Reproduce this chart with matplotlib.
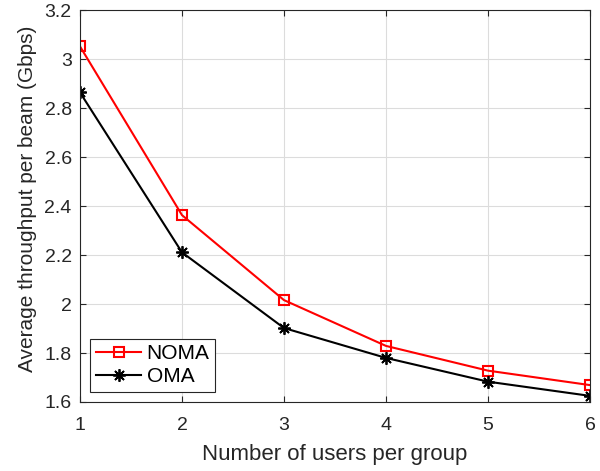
import matplotlib.pyplot as plt
import numpy as np

plt.rcParams['font.family'] = ['Liberation Sans', 'DejaVu Sans']

users = [1, 2, 3, 4, 5, 6]
noma = [3.052, 2.363, 2.016, 1.829, 1.728, 1.669]
oma = [2.864, 2.211, 1.902, 1.780, 1.683, 1.625]

fig = plt.figure(figsize=(6.0, 4.71), dpi=100)
ax = fig.add_axes([0.1333, 0.1465, 0.85, 0.832])

ax.plot(users, noma, color='red', lw=1.5, marker='s', ms=7, mfc='none',
        mec='red', mew=1.5, label='NOMA')
ax.plot(users, oma, color='black', lw=1.5, marker=(8, 2, 0), ms=9,
        mew=1.3, label='OMA')

ax.set_xlim(1, 6)
ax.set_ylim(1.6, 3.2)
ax.set_xticks(users)
ax.set_yticks(np.arange(1.6, 3.21, 0.2))
ax.set_yticklabels(['1.6', '1.8', '2', '2.2', '2.4', '2.6', '2.8', '3', '3.2'])
ax.grid(True, color='#dcdcdc', lw=0.8)
ax.set_axisbelow(True)
ax.tick_params(direction='in', top=True, right=True, labelsize=14,
               colors='#262626', length=4)
ax.tick_params(axis='x', pad=11)
ax.tick_params(axis='y', pad=6)
for s in ax.spines.values():
    s.set_color('#262626')
    s.set_linewidth(0.8)

ax.set_xlabel('Number of users per group', fontsize=16, color='#262626',
              labelpad=7)
ax.set_ylabel('Average throughput per beam (Gbps)', fontsize=15,
              color='#262626')
ax.yaxis.set_label_coords(-0.084, 0.518)

leg = ax.legend(loc='lower left', fontsize=15, fancybox=False,
                edgecolor='#262626', framealpha=1, handlelength=2.2,
                handletextpad=0.25, borderaxespad=0.5, borderpad=0.25,
                labelspacing=0.2)
leg.get_frame().set_linewidth(0.8)

fig.savefig('out.png', dpi=100)
